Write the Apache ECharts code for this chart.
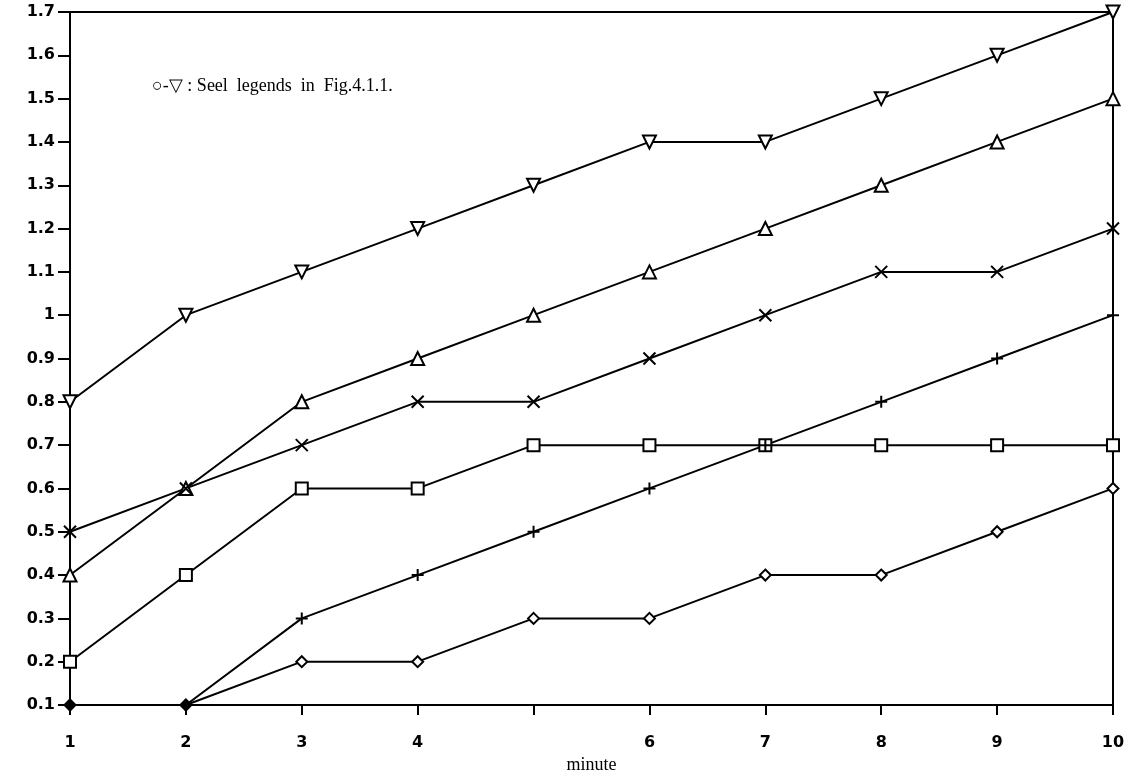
<!DOCTYPE html>
<html><head><meta charset="utf-8">
<script src="https://cdn.jsdelivr.net/npm/echarts@6/dist/echarts.min.js"></script>
<style>html,body{margin:0;padding:0;background:#fff}#c{width:1145px;height:772px}</style>
</head><body><div id="c"></div>
<script>
const minutes = [1,2,3,4,5,6,7,8,9,10];
const xTickLabels = ['1','2','3','4','','6','7','8','9','10'];
const downTri = [0.8,1.0,1.1,1.2,1.3,1.4,1.4,1.5,1.6,1.7];
const upTri   = [0.4,0.6,0.8,0.9,1.0,1.1,1.2,1.3,1.4,1.5];
const cross   = [0.5,0.6,0.7,0.8,0.8,0.9,1.0,1.1,1.1,1.2];
const square  = [0.2,0.4,0.6,0.6,0.7,0.7,0.7,0.7,0.7,0.7];
const plus    = [0.1,0.1,0.3,0.4,0.5,0.6,0.7,0.8,0.9,1.0];
const diamond = [0.1,0.1,0.2,0.2,0.3,0.3,0.4,0.4,0.5,0.6];
const filledDiamondIdx = [0,1];
const note = '\u25CB-\u25BD : Seel  legends  in  Fig.4.1.1.';

function mk(name, vals, symbol, size, opts) {
  opts = opts || {};
  return {
    name: name, type: 'line',
    data: vals.map((v,i) => {
      const d = {value:[minutes[i], v]};
      if (opts.filled && opts.filled.includes(i)) d.itemStyle = {color:'#000'};
      return d;
    }),
    symbol: symbol, symbolSize: size, symbolRotate: opts.rotate || 0,
    showSymbol: true,
    lineStyle: {color:'#000', width: 2},
    itemStyle: {color: opts.fill || '#fff', borderColor:'#000', borderWidth: 2},
    z: 3, animation: false
  };
}
const chart = echarts.init(document.getElementById('c'), null, {renderer:'canvas'});
chart.setOption({
  backgroundColor:'#fff',
  animation:false,
  grid:{left:70, right:32, top:12, bottom:67, containLabel:false, outerBoundsMode:'none',
        show:true, borderColor:'#000', borderWidth:2, backgroundColor:'transparent'},
  xAxis:{
    type:'value', min:1, max:10, interval:1,
    name:'minute', nameLocation:'middle', nameGap:50,
    nameTextStyle:{fontFamily:'Liberation Serif', fontSize:18, color:'#000'},
    axisLine:{show:true, lineStyle:{color:'#000', width:2}},
    axisTick:{show:true, inside:false, length:10, lineStyle:{color:'#000', width:2}},
    axisLabel:{margin:30, fontFamily:'DejaVu Sans', fontWeight:'bold', fontSize:16, color:'#000',
      formatter: v => xTickLabels[minutes.indexOf(Math.round(v))] || ''},
    splitLine:{show:false}
  },
  yAxis:{
    type:'value', min:0.1, max:1.7, interval:0.1,
    axisLine:{show:true, lineStyle:{color:'#000', width:2}},
    axisTick:{show:true, inside:false, length:12, lineStyle:{color:'#000', width:2}},
    axisLabel:{margin:15, fontFamily:'DejaVu Sans', fontWeight:'bold', fontSize:16, color:'#000',
      formatter: v => { const r = Math.round(v*10)/10; return r===1 ? '1' : r.toFixed(1); }},
    splitLine:{show:false}
  },
  graphic:[{type:'text', left:152, top:77, style:{text:note, font:'18px "Liberation Serif"', fill:'#000'}}],
  series:[
    mk('down', downTri, 'triangle', 13, {rotate:180}),
    mk('up', upTri, 'triangle', 13),
    mk('cross', cross, 'path://M0,0L10,10M10,0L0,10', 12, {fill:'#000'}),
    mk('square', square, 'rect', 12),
    mk('plus', plus, 'path://M5,0L5,10M0,5L10,5', 12, {fill:'#000'}),
    mk('diamond', diamond, 'diamond', 11, {filled: filledDiamondIdx})
  ]
});
</script></body></html>
